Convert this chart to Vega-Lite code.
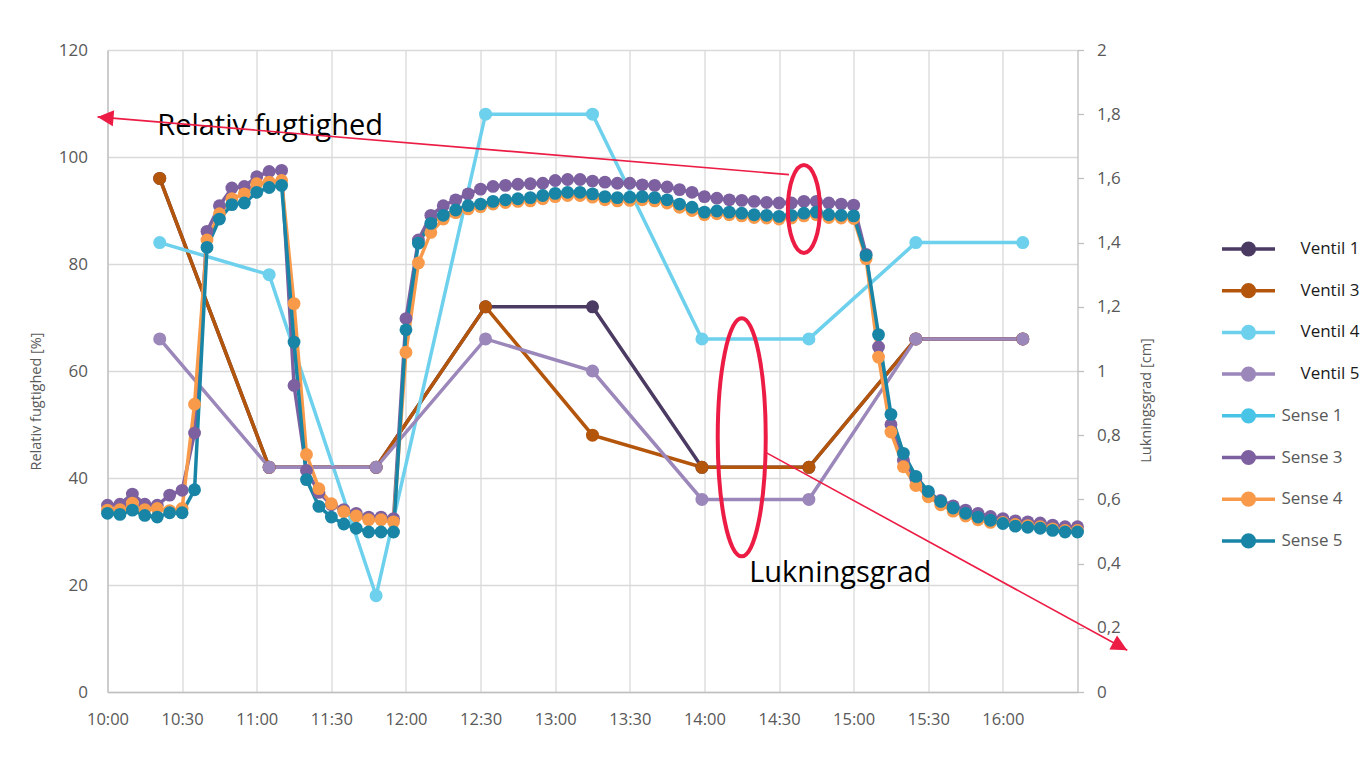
{
  "$schema": "https://vega.github.io/schema/vega-lite/v6.json",
  "autosize": "none",
  "width": 970,
  "height": 642,
  "padding": {"left": 107.5, "top": 50, "right": 284.5, "bottom": 75},
  "background": "white",
  "config": {
    "font": "Open Sans",
    "view": {"stroke": null},
    "axis": {"labelFont": "Open Sans", "titleFont": "Open Sans", "labelColor": "#595959", "titleColor": "#595959", "titleFontWeight": "normal"},
    "legend": {"labelFont": "Open Sans"},
    "text": {"font": "Open Sans"}
  },
  "datasets": {
    "ventil": [
      {"time": "10:21", "Ventil 1": 1.6, "Ventil 3": 1.6, "Ventil 4": 1.4, "Ventil 5": 1.1},
      {"time": "11:05", "Ventil 1": 0.7, "Ventil 3": 0.7, "Ventil 4": 1.3, "Ventil 5": 0.7},
      {"time": "11:48", "Ventil 1": 0.7, "Ventil 3": 0.7, "Ventil 4": 0.3, "Ventil 5": 0.7},
      {"time": "12:32", "Ventil 1": 1.2, "Ventil 3": 1.2, "Ventil 4": 1.8, "Ventil 5": 1.1},
      {"time": "13:15", "Ventil 1": 1.2, "Ventil 3": 0.8, "Ventil 4": 1.8, "Ventil 5": 1.0},
      {"time": "13:59", "Ventil 1": 0.7, "Ventil 3": 0.7, "Ventil 4": 1.1, "Ventil 5": 0.6},
      {"time": "14:42", "Ventil 1": 0.7, "Ventil 3": 0.7, "Ventil 4": 1.1, "Ventil 5": 0.6},
      {"time": "15:25", "Ventil 1": 1.1, "Ventil 3": 1.1, "Ventil 4": 1.4, "Ventil 5": 1.1},
      {"time": "16:08", "Ventil 1": 1.1, "Ventil 3": 1.1, "Ventil 4": 1.4, "Ventil 5": 1.1}
    ],
    "sense": [
      {"time": "10:00", "Sense 3": 34.9, "Sense 4": 34.0, "Sense 5": 33.4},
      {"time": "10:05", "Sense 3": 35.1, "Sense 4": 34.1, "Sense 5": 33.2},
      {"time": "10:10", "Sense 3": 37.0, "Sense 4": 35.3, "Sense 5": 34.0},
      {"time": "10:15", "Sense 3": 35.1, "Sense 4": 34.1, "Sense 5": 33.0},
      {"time": "10:20", "Sense 3": 34.9, "Sense 4": 34.3, "Sense 5": 32.7},
      {"time": "10:25", "Sense 3": 36.8, "Sense 4": 33.9, "Sense 5": 33.5},
      {"time": "10:30", "Sense 3": 37.7, "Sense 4": 34.3, "Sense 5": 33.5},
      {"time": "10:35", "Sense 3": 48.4, "Sense 4": 53.8, "Sense 5": 37.8},
      {"time": "10:40", "Sense 3": 86.1, "Sense 4": 84.5, "Sense 5": 83.1},
      {"time": "10:45", "Sense 3": 90.9, "Sense 4": 89.4, "Sense 5": 88.4},
      {"time": "10:50", "Sense 3": 94.2, "Sense 4": 92.2, "Sense 5": 91.1},
      {"time": "10:55", "Sense 3": 94.5, "Sense 4": 93.1, "Sense 5": 91.4},
      {"time": "11:00", "Sense 3": 96.3, "Sense 4": 95.0, "Sense 5": 93.4},
      {"time": "11:05", "Sense 3": 97.3, "Sense 4": 95.3, "Sense 5": 94.3},
      {"time": "11:10", "Sense 3": 97.5, "Sense 4": 95.6, "Sense 5": 94.7},
      {"time": "11:15", "Sense 3": 57.3, "Sense 4": 72.6, "Sense 5": 65.4},
      {"time": "11:20", "Sense 3": 41.4, "Sense 4": 44.4, "Sense 5": 39.7},
      {"time": "11:25", "Sense 3": 37.3, "Sense 4": 38.0, "Sense 5": 34.7},
      {"time": "11:30", "Sense 3": 35.0, "Sense 4": 35.2, "Sense 5": 32.7},
      {"time": "11:35", "Sense 3": 34.1, "Sense 4": 33.7, "Sense 5": 31.4},
      {"time": "11:40", "Sense 3": 33.4, "Sense 4": 32.9, "Sense 5": 30.6},
      {"time": "11:45", "Sense 3": 32.7, "Sense 4": 32.2, "Sense 5": 29.9},
      {"time": "11:50", "Sense 3": 32.7, "Sense 4": 32.2, "Sense 5": 29.9},
      {"time": "11:55", "Sense 3": 32.4, "Sense 4": 31.8, "Sense 5": 29.9},
      {"time": "12:00", "Sense 3": 69.8, "Sense 4": 63.5, "Sense 5": 67.7},
      {"time": "12:05", "Sense 3": 84.5, "Sense 4": 80.2, "Sense 5": 83.9},
      {"time": "12:10", "Sense 3": 89.1, "Sense 4": 85.9, "Sense 5": 87.6},
      {"time": "12:15", "Sense 3": 90.9, "Sense 4": 88.4, "Sense 5": 89.1},
      {"time": "12:20", "Sense 3": 92.0, "Sense 4": 89.6, "Sense 5": 90.1},
      {"time": "12:25", "Sense 3": 93.1, "Sense 4": 90.3, "Sense 5": 90.9},
      {"time": "12:30", "Sense 3": 94.0, "Sense 4": 90.7, "Sense 5": 91.2},
      {"time": "12:35", "Sense 3": 94.5, "Sense 4": 91.2, "Sense 5": 91.7},
      {"time": "12:40", "Sense 3": 94.7, "Sense 4": 91.5, "Sense 5": 92.0},
      {"time": "12:45", "Sense 3": 94.9, "Sense 4": 91.7, "Sense 5": 92.2},
      {"time": "12:50", "Sense 3": 95.0, "Sense 4": 91.8, "Sense 5": 92.4},
      {"time": "12:55", "Sense 3": 95.1, "Sense 4": 92.2, "Sense 5": 92.8},
      {"time": "13:00", "Sense 3": 95.6, "Sense 4": 92.6, "Sense 5": 93.2},
      {"time": "13:05", "Sense 3": 95.8, "Sense 4": 92.8, "Sense 5": 93.4},
      {"time": "13:10", "Sense 3": 95.8, "Sense 4": 92.8, "Sense 5": 93.4},
      {"time": "13:15", "Sense 3": 95.5, "Sense 4": 92.5, "Sense 5": 93.1},
      {"time": "13:20", "Sense 3": 95.3, "Sense 4": 92.0, "Sense 5": 92.6},
      {"time": "13:25", "Sense 3": 95.1, "Sense 4": 91.8, "Sense 5": 92.4},
      {"time": "13:30", "Sense 3": 95.1, "Sense 4": 91.9, "Sense 5": 92.5},
      {"time": "13:35", "Sense 3": 94.8, "Sense 4": 92.0, "Sense 5": 92.6},
      {"time": "13:40", "Sense 3": 94.7, "Sense 4": 91.8, "Sense 5": 92.4},
      {"time": "13:45", "Sense 3": 94.4, "Sense 4": 91.4, "Sense 5": 92.0},
      {"time": "13:50", "Sense 3": 93.9, "Sense 4": 90.6, "Sense 5": 91.2},
      {"time": "13:55", "Sense 3": 93.4, "Sense 4": 90.0, "Sense 5": 90.6},
      {"time": "14:00", "Sense 3": 92.6, "Sense 4": 89.2, "Sense 5": 89.7},
      {"time": "14:05", "Sense 3": 92.3, "Sense 4": 89.4, "Sense 5": 89.9},
      {"time": "14:10", "Sense 3": 92.0, "Sense 4": 89.2, "Sense 5": 89.7},
      {"time": "14:15", "Sense 3": 91.9, "Sense 4": 89.0, "Sense 5": 89.5},
      {"time": "14:20", "Sense 3": 91.7, "Sense 4": 88.7, "Sense 5": 89.2},
      {"time": "14:25", "Sense 3": 91.5, "Sense 4": 88.6, "Sense 5": 89.1},
      {"time": "14:30", "Sense 3": 91.4, "Sense 4": 88.4, "Sense 5": 88.9},
      {"time": "14:35", "Sense 3": 91.4, "Sense 4": 88.6, "Sense 5": 89.1},
      {"time": "14:40", "Sense 3": 91.7, "Sense 4": 89.0, "Sense 5": 89.5},
      {"time": "14:45", "Sense 3": 91.7, "Sense 4": 89.2, "Sense 5": 89.7},
      {"time": "14:50", "Sense 3": 91.4, "Sense 4": 88.7, "Sense 5": 89.2},
      {"time": "14:55", "Sense 3": 91.2, "Sense 4": 88.6, "Sense 5": 89.1},
      {"time": "15:00", "Sense 3": 91.0, "Sense 4": 88.5, "Sense 5": 89.0},
      {"time": "15:05", "Sense 3": 81.8, "Sense 4": 81.0, "Sense 5": 81.6},
      {"time": "15:10", "Sense 3": 64.5, "Sense 4": 62.6, "Sense 5": 66.8},
      {"time": "15:15", "Sense 3": 50.0, "Sense 4": 48.6, "Sense 5": 51.9},
      {"time": "15:20", "Sense 3": 43.3, "Sense 4": 42.1, "Sense 5": 44.6},
      {"time": "15:25", "Sense 3": 39.8, "Sense 4": 38.6, "Sense 5": 40.3},
      {"time": "15:30", "Sense 3": 37.2, "Sense 4": 36.5, "Sense 5": 37.5},
      {"time": "15:35", "Sense 3": 35.8, "Sense 4": 35.0, "Sense 5": 35.6},
      {"time": "15:40", "Sense 3": 34.8, "Sense 4": 33.8, "Sense 5": 34.4},
      {"time": "15:45", "Sense 3": 34.0, "Sense 4": 32.9, "Sense 5": 33.4},
      {"time": "15:50", "Sense 3": 33.4, "Sense 4": 32.2, "Sense 5": 32.7},
      {"time": "15:55", "Sense 3": 32.8, "Sense 4": 31.7, "Sense 5": 32.1},
      {"time": "16:00", "Sense 3": 32.4, "Sense 4": 31.7, "Sense 5": 31.5},
      {"time": "16:05", "Sense 3": 32.0, "Sense 4": 31.3, "Sense 5": 31.0},
      {"time": "16:10", "Sense 3": 31.8, "Sense 4": 31.1, "Sense 5": 30.8},
      {"time": "16:15", "Sense 3": 31.6, "Sense 4": 30.9, "Sense 5": 30.6},
      {"time": "16:20", "Sense 3": 31.2, "Sense 4": 30.5, "Sense 5": 30.2},
      {"time": "16:25", "Sense 3": 30.9, "Sense 4": 30.2, "Sense 5": 29.9},
      {"time": "16:30", "Sense 3": 30.9, "Sense 4": 30.2, "Sense 5": 29.9}
    ]
  },
  "encoding": {
    "x": {
      "field": "time",
      "type": "temporal",
      "scale": {"domain": [
        {"year": 1900, "month": 1, "date": 1, "hours": 10, "minutes": 0},
        {"year": 1900, "month": 1, "date": 1, "hours": 16, "minutes": 30}
      ]},
      "axis": {
        "title": null,
        "format": "%H:%M",
        "values": [
          {"year": 1900, "month": 1, "date": 1, "hours": 10, "minutes": 0},
          {"year": 1900, "month": 1, "date": 1, "hours": 10, "minutes": 30},
          {"year": 1900, "month": 1, "date": 1, "hours": 11, "minutes": 0},
          {"year": 1900, "month": 1, "date": 1, "hours": 11, "minutes": 30},
          {"year": 1900, "month": 1, "date": 1, "hours": 12, "minutes": 0},
          {"year": 1900, "month": 1, "date": 1, "hours": 12, "minutes": 30},
          {"year": 1900, "month": 1, "date": 1, "hours": 13, "minutes": 0},
          {"year": 1900, "month": 1, "date": 1, "hours": 13, "minutes": 30},
          {"year": 1900, "month": 1, "date": 1, "hours": 14, "minutes": 0},
          {"year": 1900, "month": 1, "date": 1, "hours": 14, "minutes": 30},
          {"year": 1900, "month": 1, "date": 1, "hours": 15, "minutes": 0},
          {"year": 1900, "month": 1, "date": 1, "hours": 15, "minutes": 30},
          {"year": 1900, "month": 1, "date": 1, "hours": 16, "minutes": 0}
        ],
        "grid": true,
        "gridColor": "#D9D9D9",
        "gridWidth": 1.3,
        "domainColor": "#BFBFBF",
        "domainWidth": 1.3,
        "ticks": false,
        "labelFontSize": 16.5,
        "labelPadding": 19,
        "labelFlush": false,
        "labelOverlap": false
      }
    }
  },
  "layer": [
    {
      "data": {"name": "ventil", "format": {"parse": {"time": "date:'%H:%M'"}}},
      "transform": [{"fold": ["Ventil 1", "Ventil 3", "Ventil 4", "Ventil 5"], "as": ["series", "value"]}],
      "encoding": {
        "y": {
          "field": "value",
          "type": "quantitative",
          "scale": {"domain": [0, 2]},
          "axis": {
            "orient": "right",
            "title": "Lukningsgrad [cm]",
            "values": [0, 0.2, 0.4, 0.6, 0.8, 1, 1.2, 1.4, 1.6, 1.8, 2],
            "labelExpr": "replace(format(datum.value, '.1~f'), '.', ',')",
            "grid": false,
            "domainColor": "#BFBFBF",
            "domainWidth": 1.3,
            "tickColor": "#BFBFBF",
            "tickWidth": 1.3,
            "tickSize": 6,
            "labelPadding": 13,
            "labelFontSize": 17,
            "titleFontSize": 14.5,
            "titleAngle": -90,
            "titleBaseline": "middle",
            "titleAlign": "center",
            "titleX": 68.5,
            "titleY": 350
          }
        },
        "color": {
          "field": "series",
          "type": "nominal",
          "scale": {
            "domain": ["Ventil 1", "Ventil 3", "Ventil 4", "Ventil 5", "Sense 1", "Sense 3", "Sense 4", "Sense 5"],
            "range": ["#4B3A62", "#B4550C", "#6DD0EC", "#9B87BA", "#48C4E6", "#7D60A0", "#F89A4A", "#1985A6"]
          },
          "legend": {
            "title": null,
            "orient": "none",
            "legendX": 1124,
            "legendY": 182,
            "padding": 0,
            "symbolType": "M -1.767 0 L 1.767 0 M -0.39 0 A 0.39 0.39 0 1 1 0.39 0 A 0.39 0.39 0 1 1 -0.39 0 Z",
            "symbolSize": 900,
            "symbolStrokeWidth": 3.5,
            "labelFontSize": 17,
            "labelOffset": 16,
            "rowPadding": 11.7,
            "encode": {
              "symbols": {"update": {
                "fill": {"scale": "color", "field": "value"},
                "stroke": {"scale": "color", "field": "value"},
                "strokeWidth": {"value": 3.5},
                "opacity": {"value": 1}
              }},
              "labels": {"update": {
                "dx": {"signal": "indexof(datum.value, 'Ventil') === 0 ? 19 : 0"},
                "fill": {"signal": "indexof(datum.value, 'Ventil') === 0 ? '#1a1a1a' : '#595959'"}
              }}
            }
          }
        }
      },
      "layer": [
        {"mark": {"type": "line", "strokeWidth": 3.5}},
        {"mark": {"type": "point", "filled": true, "size": 170, "opacity": 1}, "encoding": {"order": {"field": "series", "type": "nominal"}}}
      ]
    },
    {
      "encoding": {
        "y": {
          "field": "value",
          "type": "quantitative",
          "scale": {"domain": [0, 120]},
          "axis": {
            "orient": "left",
            "title": "Relativ fugtighed [%]",
            "values": [0, 20, 40, 60, 80, 100, 120],
            "grid": true,
            "gridColor": "#D9D9D9",
            "gridWidth": 1.3,
            "domainColor": "#BFBFBF",
            "domainWidth": 1.3,
            "ticks": false,
            "labelPadding": 20,
            "labelFontSize": 17,
            "titleFontSize": 14.5,
            "titleAngle": -90,
            "titleBaseline": "middle",
            "titleAlign": "center",
            "titleX": -71.5,
            "titleY": 351
          }
        }
      },
      "layer": [
        {
          "data": {"name": "sense", "format": {"parse": {"time": "date:'%H:%M'"}}},
          "transform": [{"fold": ["Sense 3", "Sense 4", "Sense 5"], "as": ["series", "value"]}],
          "encoding": {"color": {"field": "series", "type": "nominal"}},
          "layer": [
            {"mark": {"type": "line", "strokeWidth": 3.5}},
            {"mark": {"type": "point", "filled": true, "size": 165, "opacity": 1}, "encoding": {"order": {"field": "series", "type": "nominal"}}}
          ]
        },
        {
          "data": {"values": [
            {"time": "10:20", "value": 104.1, "label": "Relativ fugtighed"},
            {"time": "14:18", "value": 20.6, "label": "Lukningsgrad"}
          ], "format": {"parse": {"time": "date:'%H:%M'"}}},
          "mark": {"type": "text", "align": "left", "baseline": "alphabetic", "fontSize": 29, "color": "#000000"},
          "encoding": {"text": {"field": "label", "type": "nominal"}}
        },
        {
          "data": {"values": [
            {"time": "14:34", "value": 96.7, "time2": "09:56", "value2": 107.5},
            {"time": "14:25", "value": 44.7, "time2": "16:50", "value2": 7.8}
          ], "format": {"parse": {"time": "date:'%H:%M'", "time2": "date:'%H:%M'"}}},
          "mark": {"type": "rule", "color": "#EC1C45", "strokeWidth": 1.6},
          "encoding": {"x2": {"field": "time2"}, "y2": {"field": "value2"}}
        },
        {
          "data": {"values": [{"time": "09:56", "value": 107.5}], "format": {"parse": {"time": "date:'%H:%M'"}}},
          "mark": {"type": "point", "shape": "M 0 0 L -2 -1 L -2 1 Z", "size": 256, "filled": true, "color": "#EC1C45", "opacity": 1, "angle": 184.8}
        },
        {
          "data": {"values": [{"time": "16:50", "value": 7.8}], "format": {"parse": {"time": "date:'%H:%M'"}}},
          "mark": {"type": "point", "shape": "M 0 0 L -2 -1 L -2 1 Z", "size": 256, "filled": true, "color": "#EC1C45", "opacity": 1, "angle": 28.7}
        },
        {
          "data": {"values": [{"time": "14:40", "value": 90.3}], "format": {"parse": {"time": "date:'%H:%M'"}}},
          "mark": {"type": "point", "shape": "M -0.364 0 A 0.364 1 0 1 0 0.364 0 A 0.364 1 0 1 0 -0.364 0 Z", "size": 7744, "filled": false, "color": "#EC1C45", "strokeWidth": 4, "opacity": 1}
        },
        {
          "data": {"values": [{"time": "14:15", "value": 47.6}], "format": {"parse": {"time": "date:'%H:%M'"}}},
          "mark": {"type": "point", "shape": "M -0.2017 0 A 0.2017 1 0 1 0 0.2017 0 A 0.2017 1 0 1 0 -0.2017 0 Z", "size": 56644, "filled": false, "color": "#EC1C45", "strokeWidth": 4, "opacity": 1}
        }
      ]
    }
  ],
  "resolve": {"scale": {"y": "independent"}}
}
